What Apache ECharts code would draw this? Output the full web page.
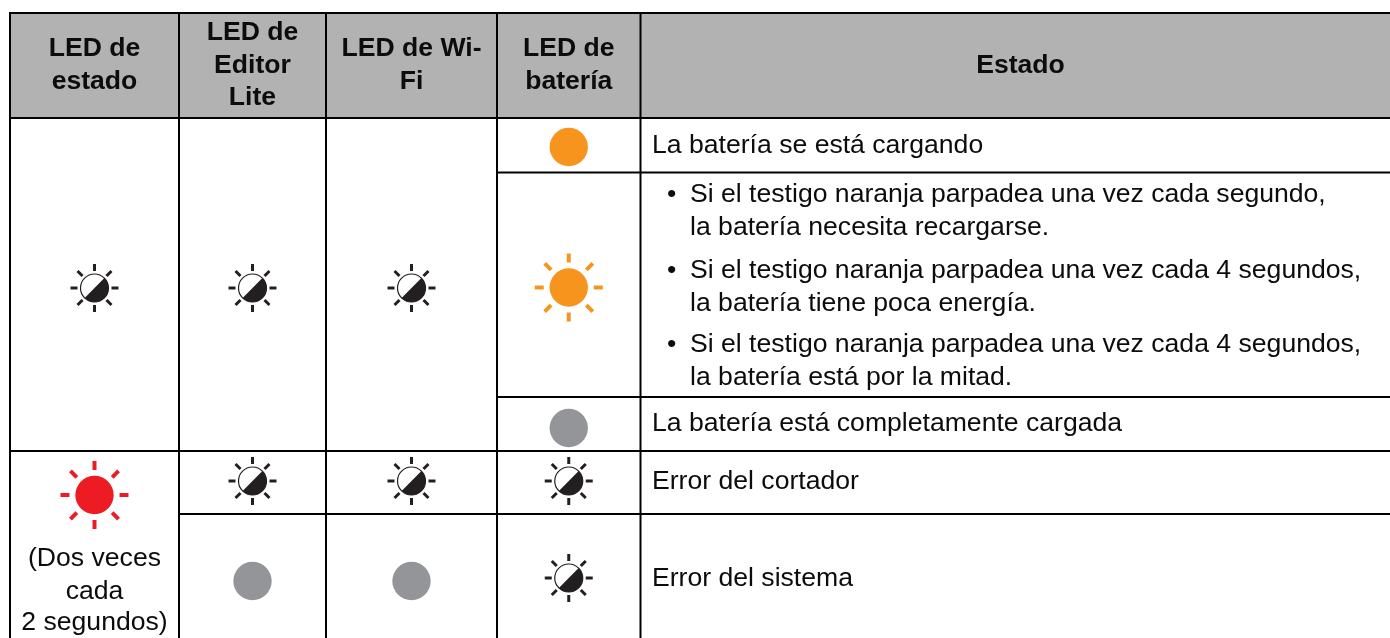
<!DOCTYPE html>
<html><head><meta charset="utf-8">
<style>html,body{margin:0;padding:0;background:#fff}#c{width:1390px;height:638px}</style>
<script src="https://cdn.jsdelivr.net/npm/echarts@6/dist/echarts.min.js"></script>
</head><body><div id="c"></div>
<script>
// table content
const headers = [
  ['LED de','estado'],
  ['LED de','Editor','Lite'],
  ['LED de Wi-','Fi'],
  ['LED de','batería'],
  ['Estado']
];
const stateRows = ['La batería se está cargando','La batería está completamente cargada','Error del cortador','Error del sistema'];
const bulletLines = [
  ['Si el testigo naranja parpadea una vez cada segundo,','la batería necesita recargarse.'],
  ['Si el testigo naranja parpadea una vez cada 4 segundos,','la batería tiene poca energía.'],
  ['Si el testigo naranja parpadea una vez cada 4 segundos,','la batería está por la mitad.']
];
const blinkNote = ['(Dos veces','cada','2 segundos)'];
// LED marks: column, row level, state
const ledColumns = [0,1,2,3,3,3,0,1,2,3,1,2,3];
const ledRows    = [2,2,2,0,1,3,4,4,4,4,5,5,5];
const ledStates  = ['half','half','half','orange','orangeBlink','gray','redBlink','half','half','half','gray','gray','half'];

// table layout, in axis units
const colEdges = [10,179,326,497,640.5,1390];
const headerCenters = [94.5,252.5,411.5,568.75,1020.5];
const rowLevelFor = (c,r)=> r===4 ? (c===0?495:481) : r===5 ? (c===3?578:581) : [147,287.5,288,428][r];
const hLines = [[13,9,1390],[118,9,1390],[172.5,497,1390],[397,497,1390],[451,9,1390],[514,179,1390]];
const vLines = [[10,12,638],[179,12,638],[326,12,638],[497,12,638],[640.5,12,638]];
const headerBand = [13,118];
const headerLineY = [[49,82],[33,66,98],[49,82],[49,82],[66]];
const stateRowY = [145.5,424,482,579];
const bulletY = [[195,228],[271,304],[345,378]];
const noteY = [559,592,623];
const stateX = 652, bulletX = 667, bulletTextX = 690;

const INK = '#0c0c0c';
const BODY = '400 26.6px "Liberation Sans", Arial, sans-serif';
const HEAD = '700 26.6px "Liberation Sans", Arial, sans-serif';
const COLORS = {half:'#231f20',orange:'#f7941d',orangeBlink:'#f7941d',gray:'#939598',redBlink:'#ed1c24'};

function rays(cx,cy,r0,r1,w,color){
  const out=[];
  for(let i=0;i<8;i++){
    const a=i*Math.PI/4;
    out.push({type:'line',shape:{x1:cx+Math.cos(a)*r0,y1:cy+Math.sin(a)*r0,x2:cx+Math.cos(a)*r1,y2:cy+Math.sin(a)*r1},style:{stroke:color,lineWidth:w}});
  }
  return out;
}
function ledItem(params,api){
  const p=api.coord([(colEdges[api.value(0)]+colEdges[api.value(0)+1])/2,api.value(1)]);
  const s=ledStates[params.dataIndex], col=COLORS[s], cx=p[0], cy=p[1];
  if(s==='half'){
    const r=14;
    return {type:'group',children:[
      ...rays(cx,cy,17,24,3,col),
      {type:'circle',shape:{cx,cy,r},style:{fill:'#fff',stroke:col,lineWidth:1.2}},
      {type:'sector',shape:{cx,cy,r0:0,r,startAngle:-Math.PI/4,endAngle:3*Math.PI/4},style:{fill:col}}
    ]};
  }
  const ch=[{type:'circle',shape:{cx,cy,r:19.2},style:{fill:col}}];
  if(s==='orangeBlink'||s==='redBlink') ch.push(...rays(cx,cy,25,34,4,col));
  return {type:'group',children:ch};
}
const txt=(x,y,text,font,align)=>({type:'text',x,y,style:{text,font,fill:INK,align:align||'left',verticalAlign:'middle'}});
function textItems(api){
  const out=[];
  headers.forEach((ls,i)=>ls.forEach((t,j)=>{
    const p=api.coord([headerCenters[i],headerLineY[i][j]]);
    out.push(txt(p[0],p[1],t,HEAD,'center'));
  }));
  stateRows.forEach((t,i)=>{const p=api.coord([stateX,stateRowY[i]]);out.push(txt(p[0],p[1],t,BODY));});
  bulletLines.forEach((ls,i)=>{
    const b=api.coord([bulletX,bulletY[i][0]]);
    out.push(txt(b[0],b[1],'•',BODY));
    ls.forEach((t,j)=>{const p=api.coord([bulletTextX,bulletY[i][j]]);out.push(txt(p[0],p[1],t,BODY));});
  });
  blinkNote.forEach((t,i)=>{const p=api.coord([(colEdges[0]+colEdges[1])/2,noteY[i]]);out.push(txt(p[0],p[1],t,BODY,'center'));});
  return out;
}
const chart=echarts.init(document.getElementById('c'),null,{renderer:'canvas'});
chart.setOption({
  animation:false,
  grid:{left:0,right:0,top:0,bottom:0},
  xAxis:{type:'value',min:0,max:1390,show:false},
  yAxis:{type:'value',min:0,max:638,inverse:true,show:false},
  series:[
    {type:'custom',coordinateSystem:'cartesian2d',silent:true,z:1,data:[[0]],clip:false,
     renderItem:(params,api)=>{
       const a=api.coord([colEdges[0],headerBand[0]]), b=api.coord([colEdges[5],headerBand[1]]);
       return {type:'rect',shape:{x:a[0],y:a[1],width:b[0]-a[0],height:b[1]-a[1]},style:{fill:'#b2b2b2'}};
     }},
    {type:'custom',coordinateSystem:'cartesian2d',silent:true,z:2,data:[[0]],clip:false,
     renderItem:(params,api)=>{
       const ch=[];
       hLines.forEach(l=>{const a=api.coord([l[1],l[0]]),b=api.coord([l[2],l[0]]);
         ch.push({type:'line',shape:{x1:a[0],y1:a[1],x2:b[0],y2:b[1]},style:{stroke:'#000',lineWidth:2}});});
       vLines.forEach(l=>{const a=api.coord([l[0],l[1]]),b=api.coord([l[0],l[2]]);
         ch.push({type:'line',shape:{x1:a[0],y1:a[1],x2:b[0],y2:b[1]},style:{stroke:'#000',lineWidth:2}});});
       return {type:'group',children:ch};
     }},
    {type:'custom',coordinateSystem:'cartesian2d',silent:true,z:3,clip:false,
     data:ledColumns.map((c,i)=>[c,rowLevelFor(c,ledRows[i])]),
     renderItem:ledItem},
    {type:'custom',coordinateSystem:'cartesian2d',silent:true,z:4,data:[[0]],clip:false,
     renderItem:(params,api)=>({type:'group',children:textItems(api)})}
  ]
});
</script></body></html>
